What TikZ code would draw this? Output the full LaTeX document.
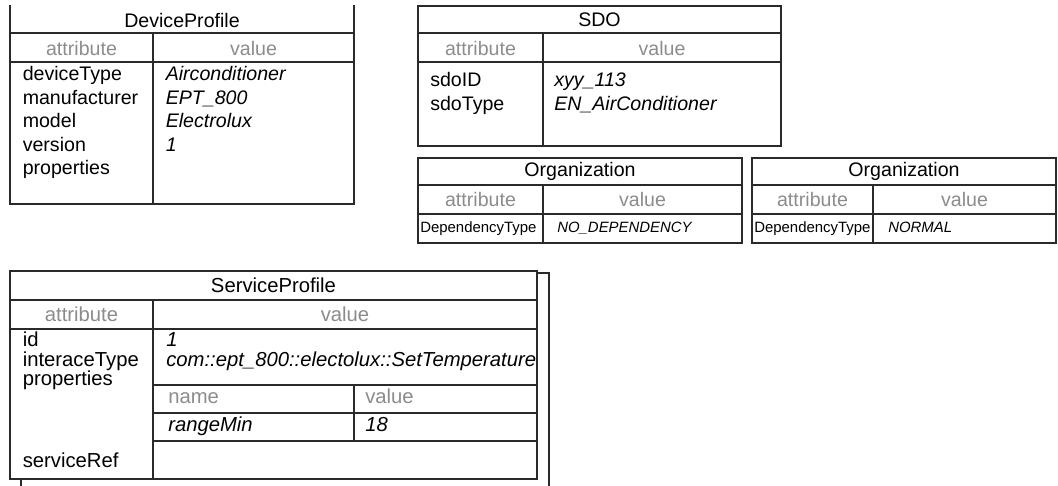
\documentclass[tikz,border=0pt]{standalone}
\usepackage{fontspec}
\setmainfont{Liberation Sans}
\definecolor{hdgray}{HTML}{8C8C8C}
\definecolor{linec}{HTML}{2A2A2A}
\tikzset{
  frame/.style={draw=linec, line width=0.9pt},
  txt/.style={inner sep=0pt, font=\fontsize{14.7}{17.8}\selectfont},
  ttl/.style={txt, anchor=center},
  hdr/.style={txt, text=hdgray, anchor=center},
  att/.style={txt, anchor=mid west},
  val/.style={txt, anchor=mid west, font=\fontsize{14.7}{17.8}\selectfont\itshape},
  sp/.style={font=\fontsize{15.2}{18}\selectfont},
  spi/.style={font=\fontsize{15.2}{18}\selectfont\itshape},
  subhdr/.style={txt, text=hdgray, anchor=mid west},
  satt/.style={inner sep=0pt, anchor=mid west, font=\fontsize{11.2}{13}\selectfont},
  sval/.style={inner sep=0pt, anchor=mid west, font=\fontsize{11.2}{13}\selectfont\itshape}
}
\begin{document}
\begin{tikzpicture}[x=0.75pt,y=-0.75pt]
\useasboundingbox (0,0) rectangle (1058,486);
\clip (0,0) rectangle (1058,486);

% ---------------- DeviceProfile ----------------
\draw[frame] (10,5) -- (10,204) -- (354,204) -- (354,5);
\draw[frame] (10,33) -- (354,33) (10,62) -- (354,62) (153,33) -- (153,204);
\node[ttl] (dpT) at (182,20) {DeviceProfile};
\node[hdr] (dpA) at (81.5,48) {attribute};
\node[hdr] (dpV) at (253.5,48) {value};
\node[att] (dp1) at (22.5,77) {deviceType};
\node[att] (dp2) at (22.5,100.5) {manufacturer};
\node[att] (dp3) at (22.5,124) {model};
\node[att] (dp4) at (22.5,147.5) {version};
\node[att] (dp5) at (22.5,171) {properties};
\node[val] (dv1) at (165.5,77) {Airconditioner};
\node[val] (dv2) at (165.5,100.5) {EPT\_800};
\node[val] (dv3) at (165.5,124) {Electrolux};
\node[val] (dv4) at (165.5,147.5) {1};

% ---------------- SDO ----------------
\draw[frame] (418,6) rectangle (781,146);
\draw[frame] (418,33) -- (781,33) (418,62) -- (781,62) (543,33) -- (543,146);
\node[ttl] (sdoT) at (599.5,19.5) {SDO};
\node[hdr] (sdoA) at (480.5,48) {attribute};
\node[hdr] (sdoV) at (662,48) {value};
\node[att] (sa1) at (430,83) {sdoID};
\node[att] (sa2) at (430,107) {sdoType};
\node[val] (sv1) at (554,83) {xyy\_113};
\node[val] (sv2) at (554,107) {EN\_AirConditioner};

% ---------------- Organization 1 ----------------
\draw[frame] (418,158) rectangle (742,243);
\draw[frame] (418,185) -- (742,185) (418,214) -- (742,214) (543,185) -- (543,243);
\node[ttl] (o1T) at (580,171.5) {Organization};
\node[hdr] (o1A) at (480.5,199.5) {attribute};
\node[hdr] (o1V) at (642.5,199.5) {value};
\node[satt] (o1a) at (420,228.5) {DependencyType};
\node[sval] (o1v) at (557,228.5) {NO\_DEPENDENCY};

% ---------------- Organization 2 ----------------
\draw[frame] (752,158) rectangle (1056,243);
\draw[frame] (752,185) -- (1056,185) (752,214) -- (1056,214) (873,185) -- (873,243);
\node[ttl] (o2T) at (904,171.5) {Organization};
\node[hdr] (o2A) at (812.5,199.5) {attribute};
\node[hdr] (o2V) at (964.5,199.5) {value};
\node[satt] (o2a) at (754,228.5) {DependencyType};
\node[sval] (o2v) at (888,228.5) {NORMAL};

% ---------------- ServiceProfile ----------------
\draw[frame, fill=white] (21,273) rectangle (549,520);
\draw[frame, fill=white] (10,271) rectangle (537,479);
\draw[frame] (10,300) -- (537,300) (10,329) -- (537,329) (153,300) -- (153,479);
\draw[frame] (153,385) -- (537,385) (153,413) -- (537,413) (153,441) -- (537,441) (354,385) -- (354,441);
\node[ttl, sp] (spT) at (273.5,285.5) {ServiceProfile};
\node[hdr, sp] (spA) at (81.5,314.5) {attribute};
\node[hdr, sp] (spV) at (345,314.5) {value};
\node[att, sp] (sp1) at (22.5,343) {id};
\node[att, sp] (sp2) at (22.5,362.5) {interaceType};
\node[att, sp] (sp3) at (22.5,382) {properties};
\node[att, sp] (sp4) at (22.5,464) {serviceRef};
\node[val, spi] (spv1) at (166,343) {1};
\begin{scope}
\clip (153,329) rectangle (536,385);
\node[val, spi] (spv2) at (166,362.5) {com::ept\_800::electolux::SetTemperature};
\end{scope}
\node[subhdr, sp] (pn) at (168,399.5) {name};
\node[subhdr, sp] (pv) at (365,399.5) {value};
\node[val, spi] (pn1) at (168,427.5) {rangeMin};
\node[val, spi] (pv1) at (365,427.5) {18};
\end{tikzpicture}
\end{document}
